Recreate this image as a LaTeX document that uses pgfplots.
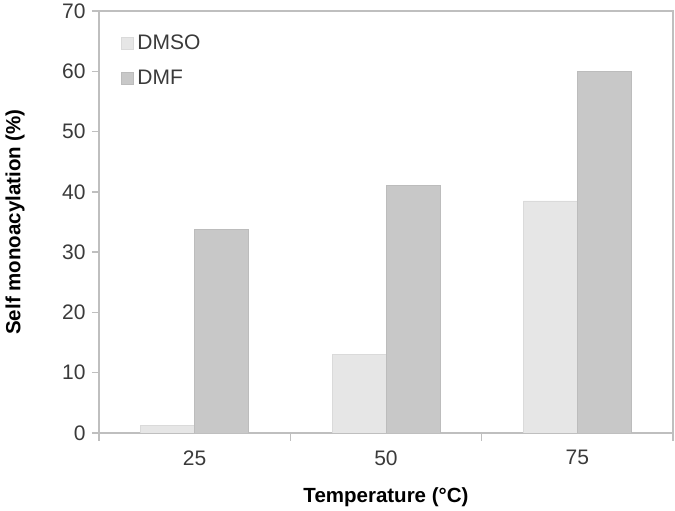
\documentclass[border=0pt]{standalone}
\usepackage{fontspec}
\setmainfont{Liberation Sans}
\usepackage{pgfplots}
\pgfplotsset{compat=1.18}
\definecolor{axgray}{HTML}{BFBFBF}
\definecolor{dmso}{HTML}{E6E6E6}
\definecolor{dmsoedge}{HTML}{DADADA}
\definecolor{dmf}{HTML}{C8C8C8}
\definecolor{dmfedge}{HTML}{BCBCBC}
\definecolor{txtgray}{HTML}{3A3A3A}
\begin{document}
\begin{tikzpicture}
\useasboundingbox (-99pt,-78pt) rectangle (576pt,433pt);
\begin{axis}[
  at={(0pt,0pt)}, anchor=south west,
  scale only axis, width=574pt, height=422pt,
  ybar=0pt, bar width=54pt,
  xmin=-0.5, xmax=2.5, ymin=0, ymax=70,
  ytick={0,10,...,70},
  xtick={0,1,2}, xticklabels={25,50,75},
  minor xtick={-0.5,0.5,1.5,2.5},
  major x tick style={draw=none},
  xtick pos=bottom, ytick pos=left,
  tick align=outside,
  major tick length=7pt, minor tick length=8pt,
  axis line style={draw=axgray, line width=1.3pt},
  every tick/.style={draw=axgray, line width=1.3pt},
  /pgf/number format/assume math mode=true,
  tick label style={font=\fontsize{21}{24}\selectfont, text=txtgray},
  xticklabel style={yshift=-7pt},
  yticklabel style={xshift=-3pt},
  xlabel={Temperature (°C)},
  ylabel={Self monoacylation (\%)},
  every axis x label/.style={at={(axis description cs:0.5,-0.1517)}, anchor=center, font=\fontsize{20.5}{24}\selectfont\bfseries},
  every axis y label/.style={at={(axis description cs:-0.1463,0.5)}, rotate=90, anchor=center, font=\fontsize{20.5}{24}\selectfont\bfseries},
  legend style={at={(axis description cs:0.032,0.948)}, anchor=north west, draw=none, fill=none,
    font=\fontsize{21}{24}\selectfont, text=txtgray, row sep=19pt,
    nodes={inner xsep=4pt, inner ysep=0pt}},
  legend cell align=left,
  legend image code/.code={\fill[#1] (0pt,-6pt) rectangle (12pt,6pt);},
]
\addplot[fill=dmso, draw=dmsoedge, line width=0.8pt] coordinates {(0,1.3) (1,13.1) (2,38.5)};
\addplot[fill=dmf, draw=dmfedge, line width=0.8pt] coordinates {(0,33.7) (1,41.1) (2,59.9)};
\legend{DMSO,DMF}
\end{axis}
\end{tikzpicture}
\end{document}
